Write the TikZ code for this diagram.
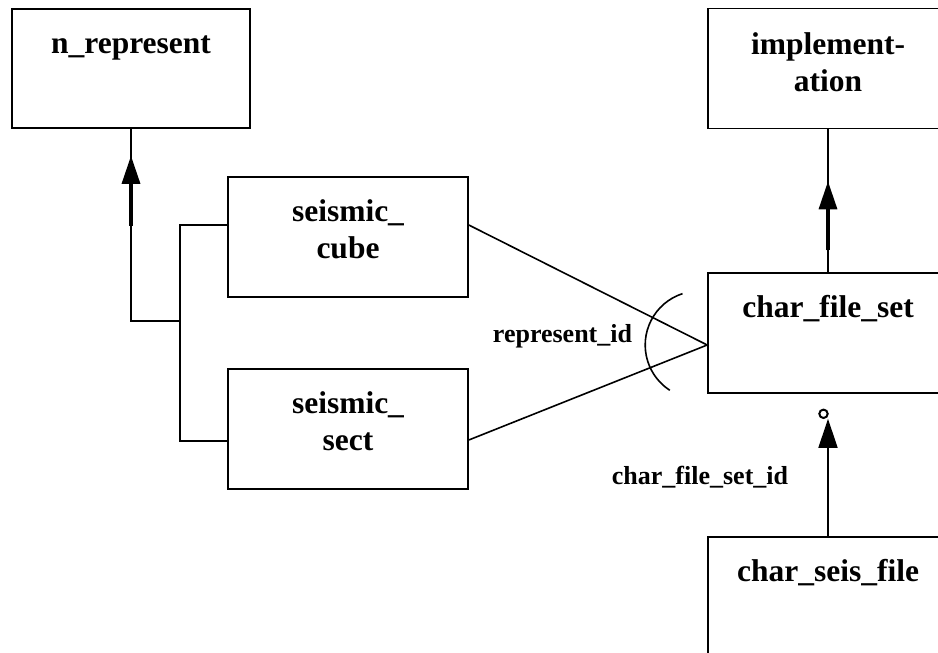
\documentclass[tikz,border=0pt]{standalone}
\usepackage{fontspec}
\setmainfont{Liberation Serif}
\usetikzlibrary{arrows.meta,calc}
\begin{document}
\begin{tikzpicture}[x=1pt,y=1pt,
  entity/.style={draw, line width=1.6pt, minimum width=240pt, minimum height=120pt, inner sep=0pt},
  title/.style={font=\fontsize{31.5}{37}\selectfont\bfseries, align=center, inner sep=0pt, anchor=base},
  rolelabel/.style={font=\fontsize{26}{30}\selectfont\bfseries, inner sep=0pt, anchor=base},
  link/.style={line width=1.6pt},
  stem/.style={line width=3.2pt, -{Triangle[length=28pt,width=18pt]}},
]
\useasboundingbox (0,0) rectangle (938,-653);
\clip (0,0) rectangle (938,-653);

% entities
\node[entity, minimum width=238pt, minimum height=119pt] (nrep) at (131,-68.5) {};
\node[entity] (impl) at (828,-68.5) {};
\node[entity] (cube) at (348,-237) {};
\node[entity] (sect) at (348,-429) {};
\node[entity] (cfs)  at (828,-333) {};
\node[entity] (csf)  at (828,-597) {};

% entity names (two-line names sit on the baseline of their last line)
\node[title] (nrepT) at ($(nrep.north)+(0,-45)$) {n\_represent};
\node[title] (implT) at ($(impl.north)+(0,-83.5)$) {implement-\\ation};
\node[title] (cubeT) at ($(cube.north)+(0,-82)$) {seismic\_\\cube};
\node[title] (sectT) at ($(sect.north)+(0,-82.5)$) {seismic\_\\sect};
\node[title] (cfsT)  at ($(cfs.north)+(0,-45)$) {char\_file\_set};
\node[title] (csfT)  at ($(csf.north)+(0,-45)$) {char\_seis\_file};

% subtype tree to n_represent
\coordinate (fork) at (180,-321);
\draw[link] ($(cube.west)+(0,12)$) -| (fork) |- ($(sect.west)+(0,-12)$);
\draw[link] (fork) -| (nrep.south);
\draw[stem] ($(nrep.south)+(0,-97)$) -- ($(nrep.south)+(0,-27)$);

% represent_id relationship
\coordinate (hub) at ($(cfs.west)+(0,-12)$);
\draw[link] ($(cube.east)+(0,12)$) -- (hub) -- ($(sect.east)+(0,-11)$);
\draw[link] ($(hub)+(-8,0)+(108:54)$) arc[start angle=108, end angle=237, radius=54];
\node[rolelabel] (repid) at (562.5,-342) {represent\_id};

% char_file_set to implementation
\draw[link] (cfs.north) -- (impl.south);
\draw[stem] ($(impl.south)+(0,-121)$) -- ($(impl.south)+(0,-52)$);

% char_seis_file to char_file_set
\draw[link, -{Triangle[length=29pt,width=19pt]}] (csf.north) -- ($(cfs.south)+(0,-25)$);
\draw[line width=2pt] ($(cfs.south)+(-4.5,-20)$) circle[radius=4.2];
\node[rolelabel] (cfsid) at (700,-484) {char\_file\_set\_id};
\end{tikzpicture}
\end{document}
